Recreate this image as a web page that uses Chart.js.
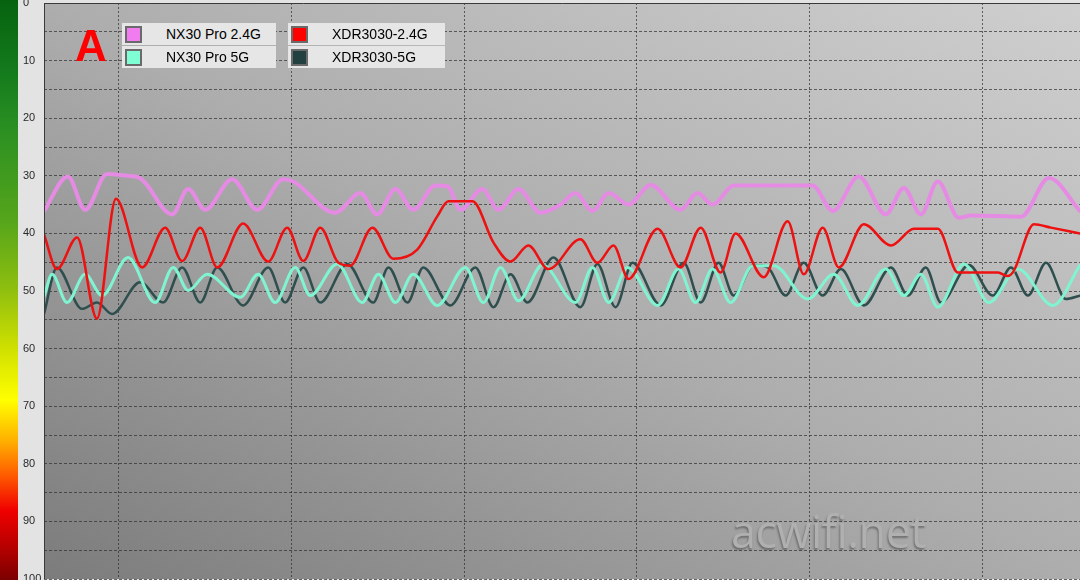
<!DOCTYPE html>
<html>
<head>
<meta charset="utf-8">
<script src="https://cdn.jsdelivr.net/npm/chart.js@4.4.1/dist/chart.umd.min.js"></script>
<style>
    html, body { margin: 0; padding: 0; background: #e3e3e3; }
    #wrap { position: relative; width: 1080px; height: 580px; overflow: hidden; background: #e3e3e3; }
    /* 左端の品質カラーバー (0=良 緑 / 100=悪 赤) */
    #bar {
        position: absolute; left: 0; top: 0; width: 18px; height: 580px;
        background: linear-gradient(to bottom,
            #06620f 0%, #137a1c 12%, #2a8f22 22%, #55a51b 38%, #8fbf0f 50%,
            #cfe000 60%, #ffff00 69%, #ffb000 76%, #ff5a00 82%, #f00000 88%, #b00000 95%, #7a0000 100%);
    }
    #c { position: absolute; left: 0; top: 0; }
    .lg-row {
        position: absolute; height: 22px; background: #e6e6e6;
        font: 14px "Liberation Sans", Arial, sans-serif; color: #000;
        line-height: 22px; white-space: nowrap;
    }
    .lg-row i {
        position: absolute; left: 3px; top: 3px; width: 13px; height: 13px;
        border: 2px solid #6a6a6a; box-sizing: content-box;
    }
    .lg-row span { position: absolute; left: 44px; top: 0; }
    #mark {
        position: absolute; left: 75px; top: 22px;
        font: bold 44px "Liberation Sans", Arial, sans-serif; color: #ff0000;
        line-height: 48px;
    }
    #wm {
        position: absolute; left: 731px; top: 500px;
        font: 45px "Open Sans", "Liberation Sans", sans-serif; color: #b0b0b0;
        text-shadow: -1px 2px 2px rgba(60, 60, 60, 0.5);
        letter-spacing: -0.5px;
    }
</style>
</head>
<body>
<div id="wrap">
    <div id="bar"></div>
    <canvas id="c" width="1080" height="580"></canvas>
    <div id="legend"></div>
    <div id="mark">A</div>
    <div id="wm">acwifi.net</div>
</div>
<script>
// 時間軸は秒、縦軸は信号品質 0 (上) .. 100 (下)
const timeGrid = [26, 86, 146, 206, 266, 326];

const seriesNames = ['NX30 Pro 2.4G', 'NX30 Pro 5G', 'XDR3030-2.4G', 'XDR3030-5G'];

// NX30 Pro 2.4G
const nx24Time = [0, 8.3, 14.3, 21.9, 28.9, 33.4, 44.5, 50.1, 56.0, 65.4, 74.1, 83.1, 86.6, 101.2, 109.9, 115.8,
    122.1, 128.3, 136.0, 140.2, 144.7, 152.3, 157.9, 164.9, 172.5, 179.5, 184.7, 190.6, 196.2, 203.1, 210.8, 221.2,
    227.1, 232.3, 239.7, 267.1, 274.1, 283.1, 292.5, 298.8, 304.7, 310.6, 317.9, 322.1, 339.5, 349.2, 360];
const nx24Value = [36.1, 30.1, 35.9, 29.7, 30.0, 30.4, 36.7, 32.3, 35.9, 30.6, 35.9, 30.6, 31.0, 36.4, 33.0, 36.7,
    32.3, 35.9, 31.7, 31.8, 35.9, 32.3, 35.9, 32.3, 36.4, 35.0, 33.0, 36.1, 33.0, 35.0, 31.6, 35.9,
    33.0, 35.0, 31.7, 31.7, 36.1, 30.1, 36.7, 32.1, 36.7, 31.0, 37.3, 36.9, 37.1, 30.4, 36.1];

// NX30 Pro 5G
const nx5Time = [0, 2.8, 8.0, 14.3, 20.2, 29.2, 38.6, 44.9, 50.1, 56.7, 68.2, 74.4, 80.3, 87.3, 92.5, 101.9,
    110.6, 116.2, 122.1, 128.3, 136.7, 146.4, 152.7, 158.6, 164.9, 173.2, 184.7, 190.6, 196.2, 202.8, 213.2, 220.5,
    226.4, 232.3, 238.6, 246.3, 253.6, 265.4, 274.4, 282.8, 292.5, 298.8, 304.7, 310.6, 319.7, 328.3, 338.4, 350.6, 360];
const nx5Value = [51.0, 47.1, 52.0, 47.1, 50.8, 44.2, 52.0, 45.9, 49.9, 47.1, 51.1, 47.1, 52.0, 45.9, 50.8, 45.3,
    52.0, 47.1, 52.0, 47.1, 52.5, 45.9, 52.0, 45.9, 51.7, 45.5, 52.0, 45.9, 52.0, 45.9, 52.5, 46.2,
    52.0, 46.2, 52.0, 45.6, 45.6, 51.4, 47.1, 52.5, 46.2, 50.8, 47.1, 52.8, 45.3, 52.0, 46.2, 52.5, 45.5];

// XDR3030-2.4G
const xdr24Time = [0, 4.5, 11.5, 18.4, 25.0, 34.1, 42.1, 48.0, 54.3, 60.2, 69.2, 77.9, 84.5, 90.1, 96.0, 102.3,
    106.4, 114.1, 121.4, 129.7, 136.7, 140.5, 148.9, 156.2, 162.1, 168.3, 175.3, 186.4, 192.3, 197.9, 203.1, 213.2,
    221.2, 228.2, 235.1, 240.3, 250.1, 258.4, 264.0, 270.6, 276.2, 284.9, 294.3, 302.3, 310.6, 317.6, 324.5, 331.5,
    334.9, 337.0, 344.0, 349.9, 360];
const xdr24Value = [40.2, 46.2, 40.7, 54.8, 34.0, 45.9, 39.0, 44.8, 39.0, 45.9, 38.3, 44.9, 39.0, 44.8, 39.0, 45.1,
    45.6, 39.0, 44.4, 42.8, 37.0, 34.4, 34.4, 41.6, 44.9, 42.1, 46.2, 41.0, 45.1, 42.1, 47.9, 39.2,
    45.9, 39.0, 46.8, 40.0, 47.6, 37.9, 47.1, 39.0, 45.9, 38.4, 42.1, 39.2, 39.2, 46.8, 46.8, 46.8,
    47.4, 46.5, 38.4, 39.0, 40.0];

// XDR3030-5G
const xdr5Time = [0, 4.5, 13.2, 18.4, 23.7, 33.4, 41.4, 48.0, 54.3, 60.2, 69.2, 77.9, 83.8, 90.1, 96.0, 105.4,
    114.4, 119.7, 126.3, 131.8, 141.2, 149.9, 156.2, 162.1, 168.0, 177.0, 186.4, 192.3, 198.6, 204.5, 214.3, 222.3,
    228.2, 234.4, 239.7, 246.6, 251.5, 257.7, 264.0, 270.6, 276.9, 284.9, 294.3, 300.2, 306.4, 311.7, 321.4, 329.7,
    336.0, 341.9, 348.2, 355.1, 360];
const xdr5Value = [54.0, 45.9, 53.1, 52.0, 54.0, 48.5, 52.0, 45.9, 52.0, 45.9, 52.5, 45.9, 52.0, 45.9, 52.0, 45.3,
    52.0, 45.9, 52.0, 45.9, 52.5, 45.9, 52.8, 47.1, 52.0, 44.2, 52.8, 45.3, 52.8, 45.1, 52.5, 45.1,
    52.0, 45.1, 50.8, 45.5, 45.9, 50.8, 45.1, 50.8, 46.2, 52.5, 45.9, 50.8, 45.9, 52.0, 45.5, 50.8,
    45.9, 50.8, 45.1, 51.4, 50.8];

(function () {
    'use strict';

    function pts(ts, vs) {
        return ts.map(function (t, i) { return { x: t, y: vs[i] }; });
    }

    // 背景: 左下が暗く右上が明るい斜めグラデーション
    var bgPlugin = {
        id: 'plotBg',
        beforeDraw: function (chart) {
            var a = chart.chartArea, ctx = chart.ctx;
            var W = a.right - a.left, H = a.bottom - a.top;
            var k = 2 * W * H / (W * W + H * H);
            var g = ctx.createLinearGradient(a.left, a.bottom, a.left + H * k, a.bottom - W * k);
            g.addColorStop(0, '#7c7c7c');
            g.addColorStop(0.5, '#adadad');
            g.addColorStop(1, '#cfcfcf');
            ctx.save();
            ctx.fillStyle = g;
            ctx.fillRect(a.left, a.top, W, H);
            ctx.restore();
        }
    };

    // 左と上の枠線
    var framePlugin = {
        id: 'plotFrame',
        afterDraw: function (chart) {
            var a = chart.chartArea, ctx = chart.ctx;
            ctx.save();
            ctx.strokeStyle = '#3a3a3a';
            ctx.lineWidth = 1;
            ctx.beginPath();
            ctx.moveTo(a.left + 0.5, a.bottom);
            ctx.lineTo(a.left + 0.5, a.top + 0.5);
            ctx.lineTo(a.right, a.top + 0.5);
            ctx.stroke();
            ctx.restore();
        }
    };

    var datasets = [
        { label: seriesNames[0], data: pts(nx24Time, nx24Value), borderColor: '#e68be4', backgroundColor: '#f07cf0', borderWidth: 4, order: 3 },
        { label: seriesNames[1], data: pts(nx5Time, nx5Value), borderColor: '#80f3d0', backgroundColor: '#7fffd4', borderWidth: 3, order: 1 },
        { label: seriesNames[2], data: pts(xdr24Time, xdr24Value), borderColor: '#ee1111', backgroundColor: '#ff0000', borderWidth: 2.5, order: 0 },
        { label: seriesNames[3], data: pts(xdr5Time, xdr5Value), borderColor: '#2f4f4f', backgroundColor: '#234040', borderWidth: 2.5, order: 2 }
    ];

    var chart = new Chart(document.getElementById('c'), {
        type: 'line',
        data: { datasets: datasets },
        options: {
            responsive: false,
            animation: false,
            events: [],
            layout: { padding: { left: 23, top: 3, right: 0, bottom: 1 } },
            plugins: { legend: { display: false }, tooltip: { enabled: false } },
            elements: {
                point: { radius: 0 },
                line: { cubicInterpolationMode: 'monotone', borderCapStyle: 'round', borderJoinStyle: 'round' }
            },
            scales: {
                x: {
                    type: 'linear', min: 0, max: 360,
                    ticks: { display: false },
                    grid: { color: 'rgba(45,45,45,0.7)', drawTicks: false, lineWidth: 1 },
                    border: { display: false, dash: [2, 2] },
                    afterBuildTicks: function (s) {
                        s.ticks = timeGrid.map(function (v) { return { value: v }; });
                    }
                },
                y: {
                    reverse: true, min: 0, max: 100,
                    ticks: {
                        stepSize: 5, crossAlign: 'far', padding: 0, color: '#2a2a2a',
                        font: { family: '"Liberation Sans", Arial, sans-serif', size: 11 },
                        callback: function (v) { return v % 10 === 0 ? v : ''; }
                    },
                    grid: { color: 'rgba(45,45,45,0.7)', drawTicks: false, lineWidth: 1 },
                    border: { display: false, dash: [3, 2] },
                    afterFit: function (s) { s.width = 21; s.paddingTop = 0; s.paddingBottom = 0; }
                }
            }
        },
        plugins: [bgPlugin, framePlugin]
    });

    // 凡例: 2列 x 2行、データセットから生成
    var legend = document.getElementById('legend');
    var colLeft = [122, 288], colWidth = [154, 157];
    chart.data.datasets.forEach(function (ds, i) {
        var col = i < 2 ? 0 : 1, row = i % 2;
        var el = document.createElement('div');
        el.className = 'lg-row';
        el.style.left = colLeft[col] + 'px';
        el.style.width = colWidth[col] + 'px';
        el.style.top = (23 + row * 23) + 'px';
        var sw = document.createElement('i');
        sw.style.background = ds.backgroundColor;
        var tx = document.createElement('span');
        tx.textContent = ds.label;
        el.appendChild(sw);
        el.appendChild(tx);
        legend.appendChild(el);
    });
})();
</script>
</body>
</html>
